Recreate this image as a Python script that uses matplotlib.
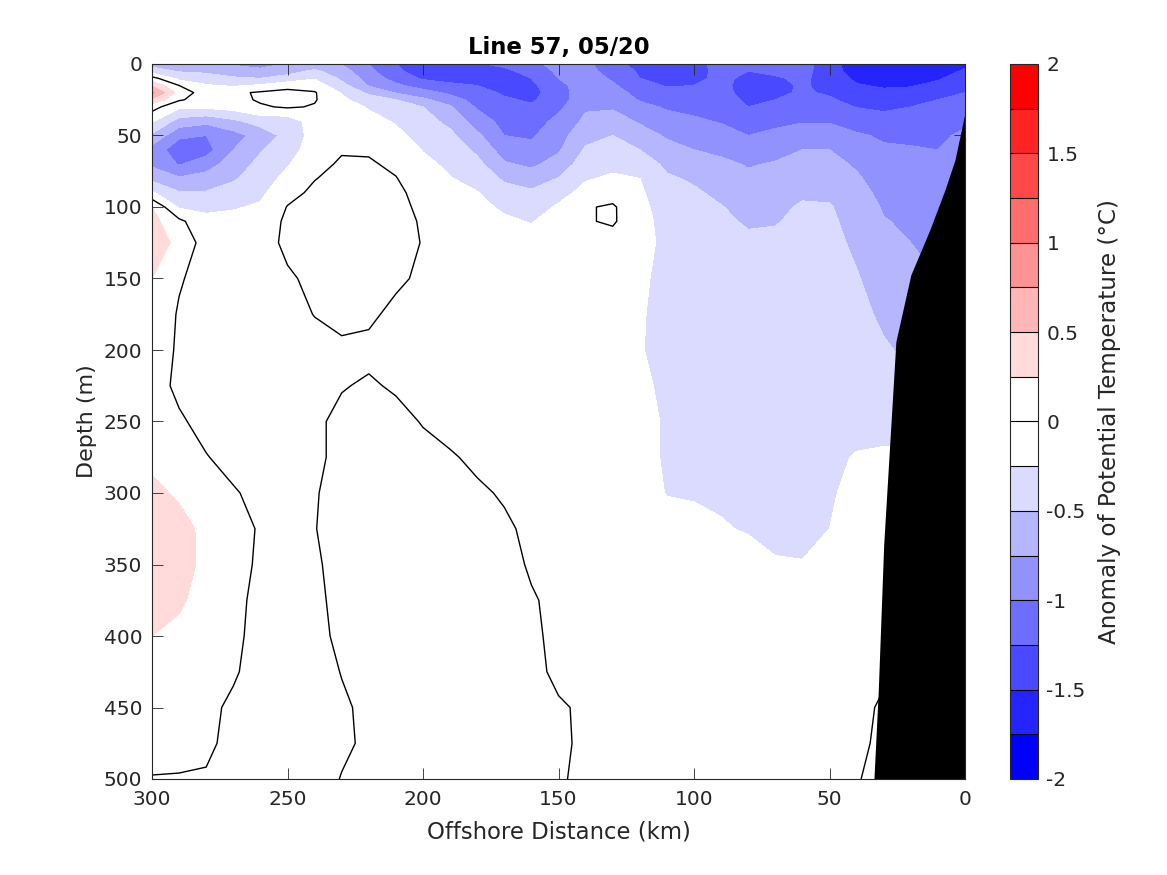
import numpy as np
import matplotlib
matplotlib.use("Agg")
import matplotlib.pyplot as plt
from matplotlib.colors import ListedColormap, BoundaryNorm

# Offshore distance of each grid column (km)
distance = [300, 290, 280, 270, 260, 250, 240, 230, 220, 210, 200, 190, 180, 170, 160, 150,
            140, 130, 120, 110, 100, 90, 80, 70, 60, 50, 40, 30, 20, 10, 0]

upper_depth = [0, 5, 10, 15, 20, 25, 30, 40, 50, 60, 70, 80, 90, 100, 110, 125]
lower_depth = [150, 175, 200, 225, 250, 275, 300, 325, 350, 375, 400, 425, 450, 475, 500]

# Upper water column, one line per distance (300 km first)
upper_anomaly = [
    [-.58, -.4, .1, .45, .8, .45, .1, -.22, -.55, -.85, -.8, -.57, -.22, .25, .33, .35],
    [-.72, -.52, -.33, 0, .14, .03, -.2, -.6, -.95, -1.15, -1.02, -.72, -.48, -.28, .06, .2],
    [-.72, -.55, -.38, -.23, -.12, -.12, -.2, -.68, -1.0, -1.1, -.87, -.65, -.48, -.29, -.2, -.12],
    [-.78, -.62, -.47, -.28, -.05, -.08, -.15, -.55, -.85, -.75, -.62, -.53, -.4, -.27, -.18, -.12],
    [-.85, -.68, -.5, -.22, .03, .03, -.03, -.4, -.65, -.52, -.44, -.37, -.3, -.22, -.16, -.1],
    [-.73, -.6, -.4, -.1, .08, .1, .03, -.4, -.42, -.36, -.27, -.18, -.08, .01, .05, .05],
    [-.68, -.45, -.27, -.12, .02, .02, -.02, -.12, -.15, -.12, -.07, -.01, .05, .08, .1, .1],
    [-.76, -.65, -.55, -.42, -.27, -.2, -.15, -.1, -.06, -.02, .03, .08, .1, .12, .13, .14],
    [-1.0, -.93, -.85, -.77, -.55, -.38, -.27, -.18, -.1, -.03, .03, .07, .1, .12, .12, .12],
    [-1.25, -1.22, -1.1, -.95, -.77, -.5, -.42, -.27, -.2, -.12, -.05, .01, .06, .08, .1, .08],
    [-1.32, -1.32, -1.28, -1.12, -.9, -.7, -.5, -.4, -.32, -.26, -.2, -.15, -.1, -.06, -.03, -.01],
    [-1.35, -1.35, -1.3, -1.22, -1.05, -.88, -.72, -.57, -.44, -.36, -.29, -.24, -.2, -.16, -.14, -.1],
    [-1.27, -1.3, -1.3, -1.25, -1.17, -1.1, -1.03, -.87, -.7, -.55, -.43, -.33, -.24, -.2, -.17, -.12],
    [-1.2, -1.3, -1.33, -1.33, -1.28, -1.22, -1.17, -1.08, -1.0, -.87, -.72, -.54, -.4, -.28, -.22, -.15],
    [-1.08, -1.17, -1.25, -1.3, -1.33, -1.28, -1.22, -1.12, -1.03, -.93, -.8, -.62, -.46, -.36, -.26, -.17],
    [-.9, -.95, -1.0, -1.08, -1.12, -1.12, -1.06, -.93, -.85, -.78, -.65, -.49, -.33, -.22, -.17, -.13],
    [-.92, -.9, -.88, -.86, -.84, -.82, -.78, -.7, -.58, -.47, -.37, -.27, -.18, -.02, -.02, -.08],
    [-1.2, -1.12, -1.03, -.97, -.9, -.85, -.78, -.64, -.5, -.4, -.3, -.22, -.1, .03, .03, -.1],
    [-1.3, -1.28, -1.25, -1.15, -1.08, -1.02, -.93, -.78, -.64, -.5, -.37, -.25, -.21, -.18, -.17, -.18],
    [-1.42, -1.4, -1.35, -1.27, -1.18, -1.1, -1.03, -.9, -.78, -.67, -.55, -.47, -.42, -.37, -.33, -.3],
    [-1.35, -1.33, -1.3, -1.25, -1.2, -1.13, -1.07, -.96, -.85, -.75, -.65, -.53, -.47, -.43, -.38, -.35],
    [-1.15, -1.18, -1.2, -1.2, -1.18, -1.14, -1.1, -1.02, -.9, -.8, -.7, -.62, -.55, -.49, -.45, -.38],
    [-1.15, -1.25, -1.3, -1.33, -1.33, -1.3, -1.25, -1.1, -1.0, -.87, -.77, -.7, -.63, -.58, -.53, -.45],
    [-1.1, -1.2, -1.28, -1.32, -1.3, -1.25, -1.17, -1.05, -.95, -.83, -.73, -.67, -.61, -.56, -.52, -.43],
    [-1.15, -1.17, -1.2, -1.22, -1.22, -1.2, -1.15, -1.02, -.87, -.75, -.67, -.6, -.54, -.47, -.43, -.38],
    [-1.38, -1.38, -1.36, -1.33, -1.28, -1.22, -1.15, -1.02, -.88, -.75, -.68, -.62, -.55, -.48, -.45, -.42],
    [-1.68, -1.62, -1.55, -1.48, -1.4, -1.33, -1.26, -1.1, -.97, -.87, -.78, -.72, -.67, -.63, -.6, -.55],
    [-1.72, -1.67, -1.6, -1.53, -1.45, -1.38, -1.3, -1.15, -1.03, -.97, -.92, -.86, -.81, -.77, -.74, -.7],
    [-1.72, -1.65, -1.58, -1.52, -1.42, -1.33, -1.25, -1.15, -1.05, -.98, -.93, -.88, -.84, -.81, -.78, -.75],
    [-1.7, -1.6, -1.53, -1.43, -1.34, -1.25, -1.2, -1.12, -1.05, -1.0, -.95, -.9, -.88, -.85, -.85, -.85],
    [-1.55, -1.47, -1.38, -1.3, -1.25, -1.2, -1.15, -1.05, -.95, -.95, -.95, -.95, -.95, -.95, -.95, -.95],
]

# Deeper water, one line per depth (150 m first)
lower_anomaly = [
    [.25, .02, -.08, -.1, -.1, -.03, .05, .1, .1, .03, -.03, -.08, -.1, -.1, -.1, -.12, -.12, -.13, -.22, -.3, -.33, -.36, -.38, -.38, -.38, -.4, -.48, -.62, -.7, -.75, -.75],
    [.15, -.02, -.08, -.1, -.1, -.06, .005, .06, .03, -.04, -.07, -.1, -.1, -.1, -.1, -.1, -.12, -.14, -.235, -.3, -.33, -.34, -.35, -.36, -.37, -.38, -.42, -.55, -.6, -.7, -.7],
    [.12, -.03, -.08, -.1, -.1, -.08, -.06, -.04, -.04, -.08, -.1, -.1, -.1, -.1, -.1, -.1, -.12, -.14, -.24, -.3, -.31, -.32, -.33, -.35, -.35, -.36, -.4, -.47, -.55, -.6, -.6],
    [.1, -.05, -.1, -.12, -.12, -.1, -.06, -.01, .02, -.02, -.06, -.1, -.12, -.12, -.12, -.12, -.12, -.14, -.2, -.3, -.3, -.3, -.3, -.3, -.32, -.33, -.35, -.4, -.45, -.5, -.5],
    [.15, .03, -.07, -.12, -.12, -.1, -.03, .04, .07, .05, -.01, -.07, -.12, -.14, -.15, -.15, -.14, -.15, -.195, -.27, -.3, -.3, -.3, -.3, -.3, -.3, -.3, -.32, -.35, -.4, -.4],
    [.2, .1, .01, -.07, -.1, -.1, -.03, .04, .08, .08, .05, .02, -.04, -.1, -.14, -.15, -.15, -.15, -.195, -.27, -.29, -.29, -.29, -.29, -.29, -.28, -.24, -.22, -.2, -.2, -.2],
    [.3, .22, .12, .02, -.06, -.08, -.01, .05, .1, .1, .1, .07, .03, -.02, -.08, -.12, -.14, -.16, -.2, -.255, -.26, -.27, -.28, -.29, -.29, -.27, -.2, -.15, -.1, -.1, -.1],
    [.48, .32, .2, .08, -.02, -.06, -.005, .06, .1, .12, .13, .12, .08, .03, -.04, -.08, -.11, -.14, -.17, -.2, -.22, -.24, -.26, -.28, -.28, -.25, -.18, -.1, -.06, -.06, -.06],
    [.48, .33, .2, .07, -.03, -.07, -.02, .05, .1, .13, .14, .13, .1, .06, -.02, -.06, -.08, -.1, -.12, -.14, -.16, -.18, -.2, -.24, -.245, -.2, -.15, -.08, -.04, -.04, -.04],
    [.35, .28, .17, .05, -.05, -.08, -.03, .04, .09, .12, .13, .13, .11, .07, .015, -.04, -.06, -.08, -.1, -.12, -.13, -.14, -.15, -.16, -.17, -.15, -.12, -.06, -.02, -.02, -.02],
    [.25, .2, .13, .04, -.06, -.09, -.04, .03, .07, .1, .12, .12, .1, .07, .03, -.04, -.06, -.07, -.08, -.09, -.1, -.1, -.11, -.11, -.12, -.1, -.08, -.03, -.01, -.01, -.01],
    [.18, .15, .1, .02, -.07, -.1, -.06, .005, .05, .08, .1, .11, .1, .07, .04, -.03, -.05, -.06, -.06, -.07, -.07, -.08, -.08, -.08, -.08, -.07, -.05, -.01, 0, 0, 0],
    [.12, .1, .04, -.03, -.08, -.11, -.07, -.02, .03, .06, .08, .09, .09, .07, .05, .015, -.02, -.04, -.05, -.05, -.05, -.05, -.05, -.05, -.05, -.04, -.02, .01, .02, .02, .02],
    [.08, .05, .02, -.03, -.07, -.1, -.07, -.02, .02, .04, .05, .06, .06, .05, .04, .01, -.01, -.03, -.03, -.03, -.03, -.03, -.03, -.03, -.03, -.02, -.01, .01, .02, .02, .02],
    [-.01, -.01, -.01, -.04, -.07, -.09, -.05, .005, .02, .03, .04, .04, .04, .03, .02, .005, -.01, -.02, -.02, -.02, -.02, -.02, -.02, -.02, -.02, -.02, -.002, .01, .02, .02, .02],
]

# Bottom profile
bottom_distance = [0, 3.7, 7.4, 13, 20, 25.5, 30, 32, 33.6]
bottom_depth = [34, 67, 88, 116, 147.5, 194, 336, 438, 500]

levels = np.arange(-2, 2.01, 0.25)
cbar_ticks = [-2, -1.5, -1, -0.5, 0, 0.5, 1, 1.5, 2]
cbar_labels = ["-2", "-1.5", "-1", "-0.5", "0", "0.5", "1", "1.5", "2"]

depth = upper_depth + lower_depth
anomaly = np.vstack([np.array(upper_anomaly).T, np.array(lower_anomaly)])

# Blue-white-red, white on both sides of zero
blues = [(1 - k / 7, 1 - k / 7, 1) for k in range(7, -1, -1)]
reds = [(1, 1 - k / 7, 1 - k / 7) for k in range(0, 8)]
cmap = ListedColormap(blues + reds)
norm = BoundaryNorm(levels, cmap.N)

text_color = "#262626"
plt.rcParams["font.family"] = "DejaVu Sans"

W, H = 1167, 875
fig = plt.figure(figsize=(W / 100, H / 100), dpi=100)
ax = fig.add_axes([152 / W, 1 - 779 / H, (965 - 152) / W, (779 - 64) / H])
cax = fig.add_axes([1010 / W, 1 - 779 / H, 28 / W, (779 - 64) / H])

filled = ax.contourf(distance, depth, anomaly, levels=levels, cmap=cmap, norm=norm)
ax.contour(distance, depth, anomaly, levels=[0], colors="k", linewidths=1)
ax.fill_betweenx(bottom_depth, bottom_distance, 0, color="k", linewidth=0, zorder=5)

ax.set_xlim(300, 0)
ax.set_ylim(500, 0)
ax.set_xticks(range(300, -1, -50))
ax.set_yticks(range(0, 501, 50))
ax.tick_params(direction="in", length=8, width=0.6, top=True, right=True,
               labelsize=14.5, labelcolor=text_color, color=text_color)
ax.tick_params(axis="x", pad=8)
ax.tick_params(axis="y", pad=7)
for side in ax.spines.values():
    side.set_linewidth(0.8)
    side.set_color(text_color)
    side.set_zorder(6)

ax.set_xlabel("Offshore Distance (km)", fontsize=16.4, color=text_color, labelpad=8)
ax.set_ylabel("Depth (m)", fontsize=16, color=text_color, labelpad=5)
ax.set_title("Line 57, 05/20", fontsize=16.4, fontweight="bold", color="k", pad=7)

cbar = fig.colorbar(filled, cax=cax, drawedges=True, ticks=cbar_ticks)
cbar.minorticks_off()
cbar.ax.set_yticklabels(cbar_labels)
cbar.ax.tick_params(length=0, labelsize=14.5, labelcolor=text_color, pad=6)
cbar.dividers.set_color("k")
cbar.dividers.set_linewidth(0.8)
cbar.outline.set_edgecolor(text_color)
cbar.outline.set_linewidth(0.8)
cbar.set_label("Anomaly of Potential Temperature (°C)", fontsize=16.6, color=text_color, labelpad=9)

fig.savefig("out.png", dpi=100)
